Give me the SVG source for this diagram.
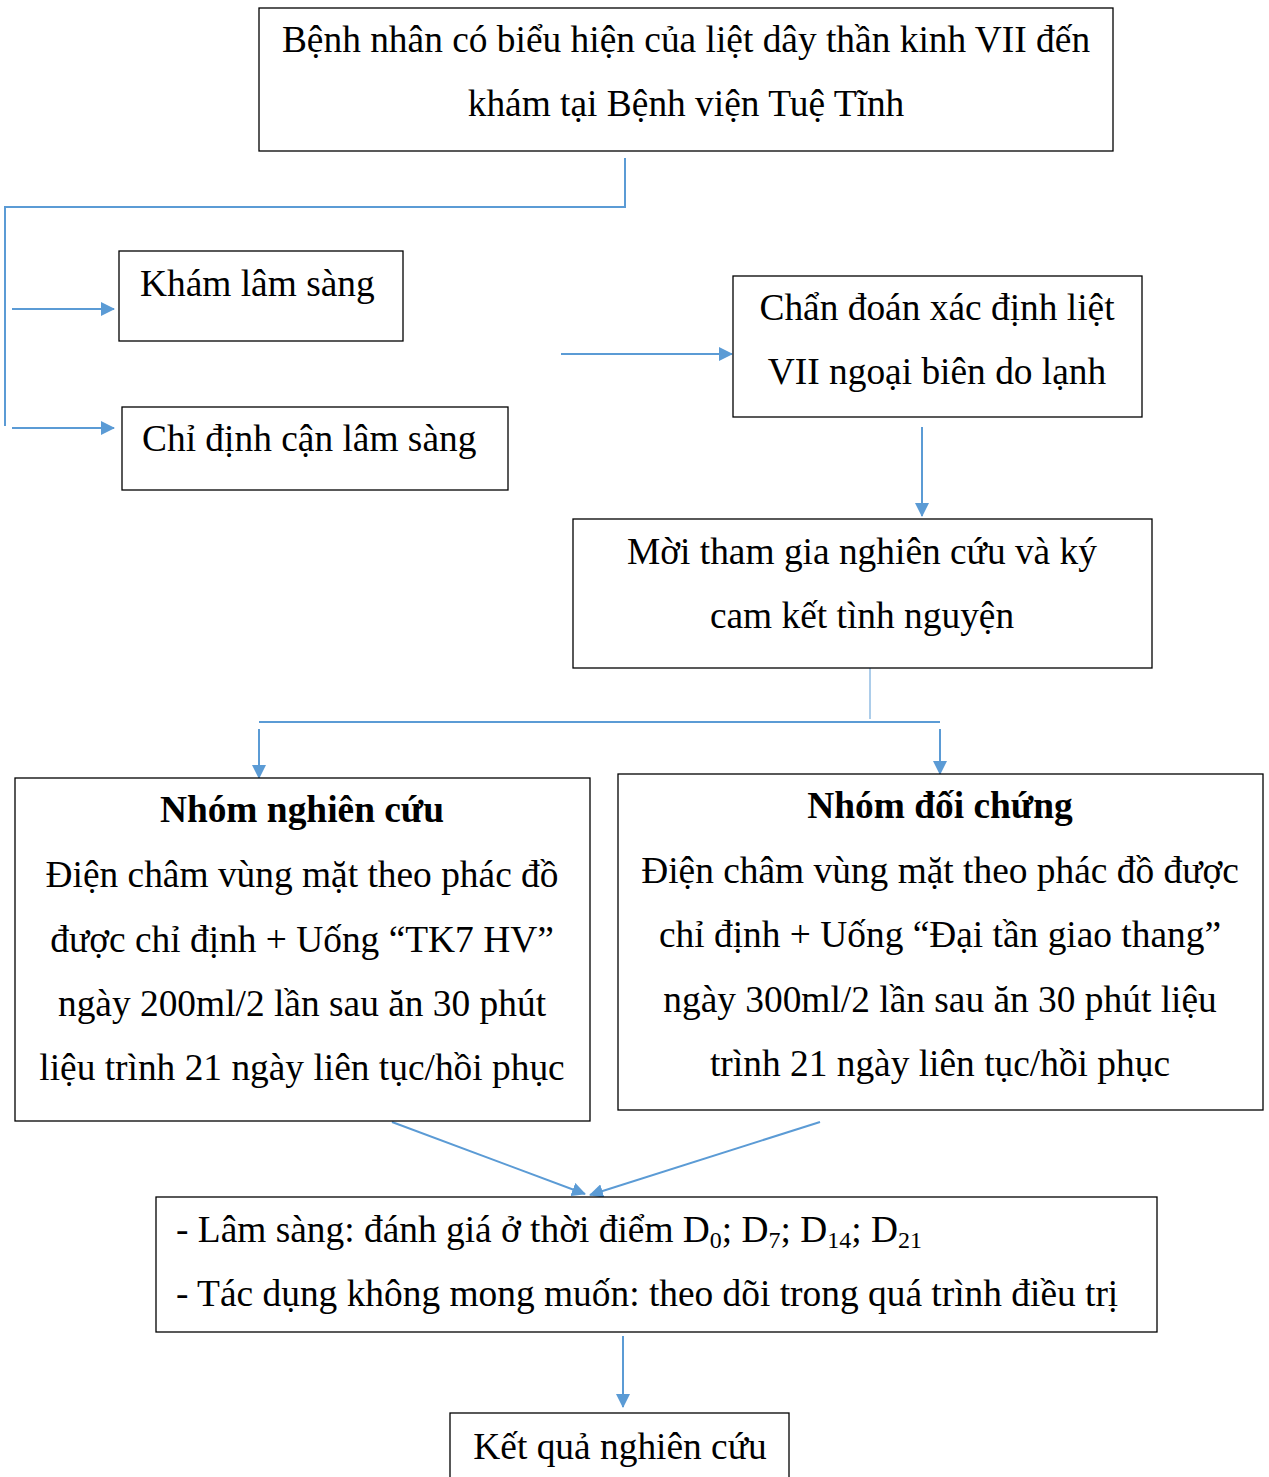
<svg xmlns="http://www.w3.org/2000/svg" width="1269" height="1477" viewBox="0 0 1269 1477">
<style>
.box{fill:#fff;stroke:#000;stroke-width:1.3}
.t{font-family:"Liberation Serif","Times New Roman",serif;font-size:37.4px;fill:#000}
.c{text-anchor:middle}
.b{font-weight:bold}
.ln{stroke:#5B9BD5;stroke-width:2;fill:none}
</style>
<defs>
<marker id="ah2" markerWidth="14" markerHeight="14" refX="13" refY="7" orient="auto" markerUnits="userSpaceOnUse" viewBox="0 0 14 14">
<path d="M0,0 L14,7 L0,14 z" fill="#5B9BD5"/>
</marker>
</defs>
<g id="connectors">
<polyline class="ln" points="625,158 625,207 5,207 5,426"/>
<line class="ln" x1="12" y1="309" x2="114" y2="309" marker-end="url(#ah2)"/>
<line class="ln" x1="12" y1="428" x2="114" y2="428" marker-end="url(#ah2)"/>
<line class="ln" x1="561" y1="354" x2="732" y2="354" marker-end="url(#ah2)"/>
<line class="ln" x1="922" y1="427" x2="922" y2="516" marker-end="url(#ah2)"/>
<line class="ln" x1="870" y1="668" x2="870" y2="719" style="stroke-width:1"/>
<line class="ln" x1="259" y1="722" x2="940" y2="722"/>
<line class="ln" x1="259" y1="729" x2="259" y2="778" marker-end="url(#ah2)"/>
<line class="ln" x1="940" y1="729" x2="940" y2="774" marker-end="url(#ah2)"/>
<line class="ln" x1="392" y1="1122" x2="585" y2="1194" marker-end="url(#ah2)"/>
<line class="ln" x1="820" y1="1122" x2="590" y2="1195" marker-end="url(#ah2)"/>
<line class="ln" x1="623" y1="1336" x2="623" y2="1407" marker-end="url(#ah2)"/>
</g>
<g id="n1">
<rect class="box" x="259" y="8" width="854" height="143"/>
<text class="t c" x="686" y="52">Bệnh nhân có biểu hiện của liệt dây thần kinh VII đến</text>
<text class="t c" x="686" y="116">khám tại Bệnh viện Tuệ Tĩnh</text>
</g>
<g id="n2">
<rect class="box" x="119" y="251" width="284" height="90"/>
<text class="t" x="140" y="296">Khám lâm sàng</text>
</g>
<g id="n3">
<rect class="box" x="122" y="407" width="386" height="83"/>
<text class="t" x="142" y="451">Chỉ định cận lâm sàng</text>
</g>
<g id="n4">
<rect class="box" x="733" y="276" width="409" height="141"/>
<text class="t c" x="937" y="320">Chẩn đoán xác định liệt</text>
<text class="t c" x="937" y="384">VII ngoại biên do lạnh</text>
</g>
<g id="n5">
<rect class="box" x="573" y="519" width="579" height="149"/>
<text class="t c" x="862" y="564">Mời tham gia nghiên cứu và ký</text>
<text class="t c" x="862" y="628">cam kết tình nguyện</text>
</g>
<g id="n6">
<rect class="box" x="15" y="778" width="575" height="343"/>
<text class="t c b" x="302" y="822">Nhóm nghiên cứu</text>
<text class="t c" x="302" y="887">Điện châm vùng mặt theo phác đồ</text>
<text class="t c" x="302" y="952">được chỉ định + Uống “TK7 HV”</text>
<text class="t c" x="302" y="1016">ngày 200ml/2 lần sau ăn 30 phút</text>
<text class="t c" x="302" y="1080">liệu trình 21 ngày liên tục/hồi phục</text>
</g>
<g id="n7">
<rect class="box" x="618" y="774" width="645" height="336"/>
<text class="t c b" x="940" y="818">Nhóm đối chứng</text>
<text class="t c" x="940" y="883">Điện châm vùng mặt theo phác đồ được</text>
<text class="t c" x="940" y="947">chỉ định + Uống “Đại tần giao thang”</text>
<text class="t c" x="940" y="1012">ngày 300ml/2 lần sau ăn 30 phút liệu</text>
<text class="t c" x="940" y="1076">trình 21 ngày liên tục/hồi phục</text>
</g>
<g id="n8">
<rect class="box" x="156" y="1197" width="1001" height="135"/>
<text class="t" x="176" y="1242">- Lâm sàng: đánh giá ở thời điểm D<tspan font-size="24" dy="6">0</tspan><tspan dy="-6">; D</tspan><tspan font-size="24" dy="6">7</tspan><tspan dy="-6">; D</tspan><tspan font-size="24" dy="6">14</tspan><tspan dy="-6">; D</tspan><tspan font-size="24" dy="6">21</tspan></text>
<text class="t" x="176" y="1306">- Tác dụng không mong muốn: theo dõi trong quá trình điều trị</text>
</g>
<g id="n9">
<rect class="box" x="450" y="1413" width="339" height="80"/>
<text class="t c" x="620" y="1459">Kết quả nghiên cứu</text>
</g>
</svg>
